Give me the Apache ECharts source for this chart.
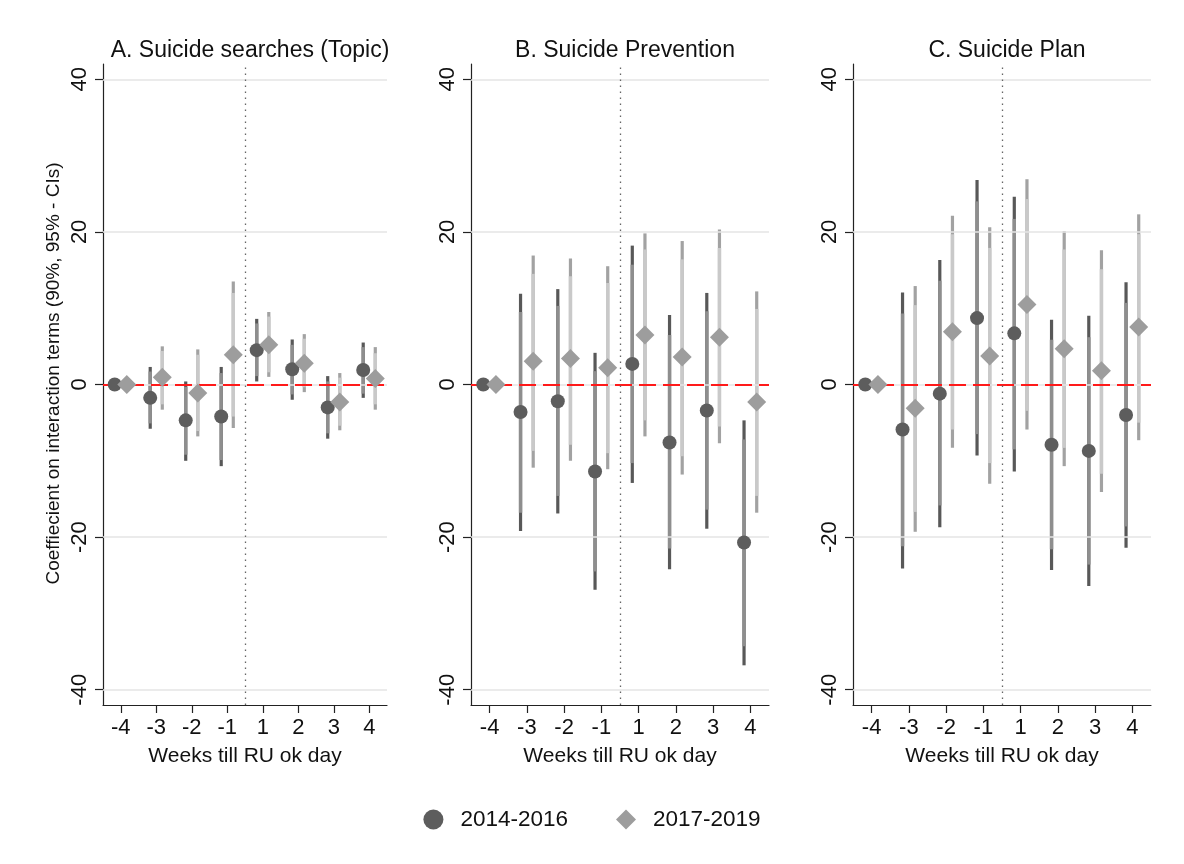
<!DOCTYPE html>
<html>
<head>
<meta charset="utf-8">
<script src="https://cdn.jsdelivr.net/npm/echarts@6/dist/echarts.min.js"></script>
<style>
  html, body { margin: 0; padding: 0; background: #ffffff; }
  #chart { width: 1184px; height: 864px; }
</style>
</head>
<body>
<div id="chart"></div>
<script>
// Event-study coefficients by week relative to RU ok day, two periods.
const weekLabels = ['-4', '-3', '-2', '-1', '1', '2', '3', '4'];
const yTicks = [-40, -20, 0, 20, 40];
const panelTitles = ['A. Suicide searches (Topic)', 'B. Suicide Prevention', 'C. Suicide Plan'];
const seriesNames = ['2014-2016', '2017-2019'];

// A. Suicide searches (Topic)
const aCoef14  = [0, -1.75, -4.7, -4.2, 4.5, 2.0, -3.0, 1.9];
const aLo95_14 = [0, -5.8, -10.0, -10.7, 0.4, -2.0, -7.1, -1.75];
const aHi95_14 = [0, 2.3, 0.4, 2.3, 8.6, 5.9, 1.1, 5.5];
const aLo90_14 = [0, -5.1, -9.2, -9.9, 1.1, -1.3, -6.4, -1.2];
const aHi90_14 = [0, 1.7, -0.3, 1.5, 8.0, 5.2, 0.4, 4.9];
const aCoef17  = [0, 0.95, -1.1, 3.9, 5.2, 2.8, -2.3, 0.8];
const aLo95_17 = [0, -3.3, -6.8, -5.7, 1.0, -1.0, -6.0, -3.3];
const aHi95_17 = [0, 5.0, 4.6, 13.5, 9.5, 6.6, 1.5, 4.9];
const aLo90_17 = [0, -2.6, -6.1, -4.2, 1.6, -0.35, -5.4, -2.6];
const aHi90_17 = [0, 4.4, 3.9, 12.0, 8.9, 6.0, 0.9, 4.1];

// B. Suicide Prevention
const bCoef14  = [0, -3.6, -2.2, -11.4, 2.7, -7.6, -3.4, -20.7];
const bLo95_14 = [0, -19.2, -16.9, -26.9, -12.9, -24.2, -18.9, -36.8];
const bHi95_14 = [0, 11.9, 12.5, 4.15, 18.2, 9.1, 12.0, -4.7];
const bLo90_14 = [0, -16.8, -14.6, -24.5, -10.3, -21.5, -16.4, -34.3];
const bHi90_14 = [0, 9.5, 10.3, 1.75, 15.7, 6.5, 9.6, -7.2];
const bCoef17  = [0, 3.05, 3.4, 2.2, 6.5, 3.6, 6.2, -2.3];
const bLo95_17 = [0, -10.9, -10.0, -11.1, -6.8, -11.8, -7.7, -16.8];
const bHi95_17 = [0, 16.9, 16.5, 15.5, 19.8, 18.8, 20.3, 12.2];
const bLo90_17 = [0, -8.7, -7.9, -9.0, -4.7, -9.4, -5.5, -14.6];
const bHi90_17 = [0, 14.5, 14.2, 13.3, 17.7, 16.4, 17.9, 9.9];

// C. Suicide Plan
const cCoef14  = [0, -5.9, -1.2, 8.7, 6.7, -7.9, -8.7, -4.0];
const cLo95_14 = [0, -24.1, -18.7, -9.3, -11.4, -24.3, -26.4, -21.4];
const cHi95_14 = [0, 12.05, 16.3, 26.8, 24.6, 8.5, 9.0, 13.4];
const cLo90_14 = [0, -21.2, -15.85, -6.5, -8.5, -21.6, -23.6, -18.6];
const cHi90_14 = [0, 9.3, 13.6, 24.0, 21.7, 5.85, 6.2, 10.7];
const cCoef17  = [0, -3.1, 6.9, 3.75, 10.5, 4.7, 1.8, 7.55];
const cLo95_17 = [0, -19.3, -8.3, -13.0, -5.9, -10.7, -14.1, -7.3];
const cHi95_17 = [0, 12.9, 22.1, 20.6, 26.9, 20.1, 17.6, 22.3];
const cLo90_17 = [0, -16.7, -5.9, -10.3, -3.45, -8.3, -11.7, -5.0];
const cHi90_17 = [0, 10.4, 19.7, 17.9, 24.3, 17.7, 15.1, 19.7];

const panels = [
  { title: panelTitles[0],
    s14: { coef: aCoef14, lo95: aLo95_14, hi95: aHi95_14, lo90: aLo90_14, hi90: aHi90_14 },
    s17: { coef: aCoef17, lo95: aLo95_17, hi95: aHi95_17, lo90: aLo90_17, hi90: aHi90_17 } },
  { title: panelTitles[1],
    s14: { coef: bCoef14, lo95: bLo95_14, hi95: bHi95_14, lo90: bLo90_14, hi90: bHi90_14 },
    s17: { coef: bCoef17, lo95: bLo95_17, hi95: bHi95_17, lo90: bLo90_17, hi90: bHi90_17 } },
  { title: panelTitles[2],
    s14: { coef: cCoef14, lo95: cLo95_14, hi95: cHi95_14, lo90: cLo90_14, hi90: cHi90_14 },
    s17: { coef: cCoef17, lo95: cLo95_17, hi95: cHi95_17, lo90: cLo90_17, hi90: cHi90_17 } }
];

// Plot-region geometry for the three panels (pixels)
const grids = [
  { left: 103, width: 284, top: 64, height: 641 },
  { left: 471, width: 298, top: 64, height: 641 },
  { left: 853, width: 298, top: 64, height: 641 }
];

const FONT = 'Liberation Sans, Arial, Helvetica, sans-serif';
const dodge = 0.17;              // horizontal offset of the two periods around each week
const col14 = '#5d5d5d', col17 = '#9d9d9d';
const ci95_14 = '#585858', ci90_14 = '#8e8e8e';
const ci95_17 = '#a2a2a2', ci90_17 = '#c9c9c9';

function spikeRenderer(color, width) {
  return function (params, api) {
    const x = api.value(0);
    const p1 = api.coord([x, api.value(1)]);
    const p2 = api.coord([x, api.value(2)]);
    if (Math.abs(p1[1] - p2[1]) < 0.5) return null;
    return {
      type: 'line',
      shape: { x1: p1[0], y1: p1[1], x2: p2[0], y2: p2[1] },
      style: { stroke: color, lineWidth: width, lineCap: 'butt' }
    };
  };
}

function ciData(lo, hi, shift) {
  return lo.map((v, i) => [i + shift, v, hi[i]]);
}
function ptData(coef, shift) {
  return coef.map((v, i) => [i + shift, v]);
}

const option = {
  animation: false,
  backgroundColor: '#ffffff',
  textStyle: { fontFamily: FONT },
  title: panels.map((p, k) => ({
    text: p.title,
    left: grids[k].left + grids[k].width / 2,
    top: 34,
    textAlign: 'center',
    textStyle: { fontFamily: FONT, fontSize: 23, fontWeight: 'normal', color: '#111' }
  })),
  legend: {
    bottom: 28,
    left: 'center',
    data: [
      { name: seriesNames[0], icon: 'circle' },
      { name: seriesNames[1], icon: 'diamond' }
    ],
    itemWidth: 20,
    itemHeight: 20,
    itemGap: 48,
    textStyle: { fontFamily: FONT, fontSize: 22.5, color: '#111', padding: [0, 0, 0, 12] }
  },
  grid: grids.map(g => ({ left: g.left, width: g.width, top: g.top, height: g.height, containLabel: false })),
  xAxis: grids.map((g, k) => ({
    type: 'value',
    gridIndex: k,
    min: -0.5,
    max: 7.5,
    name: 'Weeks till RU ok day',
    nameLocation: 'middle',
    nameGap: 41,
    nameTextStyle: { fontFamily: FONT, fontSize: 21, color: '#111' },
    axisLine: { show: true, onZero: false, lineStyle: { color: '#222', width: 1.2 } },
    axisTick: { show: true, length: 8, customValues: [0, 1, 2, 3, 4, 5, 6, 7], lineStyle: { color: '#222', width: 1.2 } },
    axisLabel: {
      customValues: [0, 1, 2, 3, 4, 5, 6, 7],
      formatter: v => weekLabels[Math.round(v)],
      fontFamily: FONT, fontSize: 22, color: '#111', margin: 12
    },
    splitLine: { show: false }
  })),
  yAxis: grids.map((g, k) => ({
    type: 'value',
    gridIndex: k,
    min: -42,
    max: 42,
    name: k === 0 ? 'Coeffiecient on interaction terms (90%, 95% - CIs)' : '',
    nameLocation: 'middle',
    nameGap: 40,
    nameRotate: 90,
    nameTextStyle: { fontFamily: FONT, fontSize: 19, color: '#111', padding: [0, 0, 0, 22] },
    axisLine: { show: true, onZero: false, lineStyle: { color: '#222', width: 1.2 } },
    axisTick: { show: true, length: 8, customValues: yTicks, lineStyle: { color: '#222', width: 1.2 } },
    axisLabel: {
      customValues: yTicks,
      rotate: 90,
      fontFamily: FONT, fontSize: 22, color: '#111', margin: 12
    },
    splitLine: { show: false }
  })),
  series: []
};

panels.forEach((p, k) => {
  // light reference lines, the zero line and the event marker
  option.series.push({
    type: 'line', xAxisIndex: k, yAxisIndex: k, data: [], silent: true,
    markLine: {
      silent: true, symbol: ['none', 'none'], label: { show: false },
      lineStyle: { color: '#e4e4e4', width: 1.5, type: 'solid' },
      data: yTicks.map(t => ({ yAxis: t }))
    },
    z: 1
  });
  option.series.push({
    type: 'line', xAxisIndex: k, yAxisIndex: k, data: [], silent: true,
    markLine: {
      silent: true, symbol: ['none', 'none'], label: { show: false },
      data: [
        { yAxis: 0, lineStyle: { color: '#ff1a1a', width: 2.2, type: [17, 7] } },
        { xAxis: 3.5, lineStyle: { color: '#666', width: 1.3, type: [1.5, 4.5] } }
      ]
    },
    z: 2
  });
  // confidence intervals: 95% drawn first, 90% over it
  [[p.s14, -dodge, ci95_14, ci90_14], [p.s17, dodge, ci95_17, ci90_17]].forEach(([s, shift, c95, c90]) => {
    option.series.push({
      type: 'custom', name: 'ci95', xAxisIndex: k, yAxisIndex: k, z: 3, silent: true,
      renderItem: spikeRenderer(c95, 3.2),
      encode: { x: 0, y: [1, 2] },
      data: ciData(s.lo95, s.hi95, shift)
    });
    option.series.push({
      type: 'custom', name: 'ci90', xAxisIndex: k, yAxisIndex: k, z: 4, silent: true,
      renderItem: spikeRenderer(c90, 3.4),
      encode: { x: 0, y: [1, 2] },
      data: ciData(s.lo90, s.hi90, shift)
    });
  });
  option.series.push({
    type: 'scatter', name: seriesNames[0], xAxisIndex: k, yAxisIndex: k, z: 5,
    symbol: 'circle', symbolSize: 14,
    itemStyle: { color: col14, opacity: 1 },
    data: ptData(p.s14.coef, -dodge)
  });
  option.series.push({
    type: 'scatter', name: seriesNames[1], xAxisIndex: k, yAxisIndex: k, z: 6,
    symbol: 'diamond', symbolSize: [19, 19],
    itemStyle: { color: col17, opacity: 1 },
    data: ptData(p.s17.coef, dodge)
  });
});

const chart = echarts.init(document.getElementById('chart'), null, { renderer: 'canvas' });
chart.setOption(option);
</script>
</body>
</html>
